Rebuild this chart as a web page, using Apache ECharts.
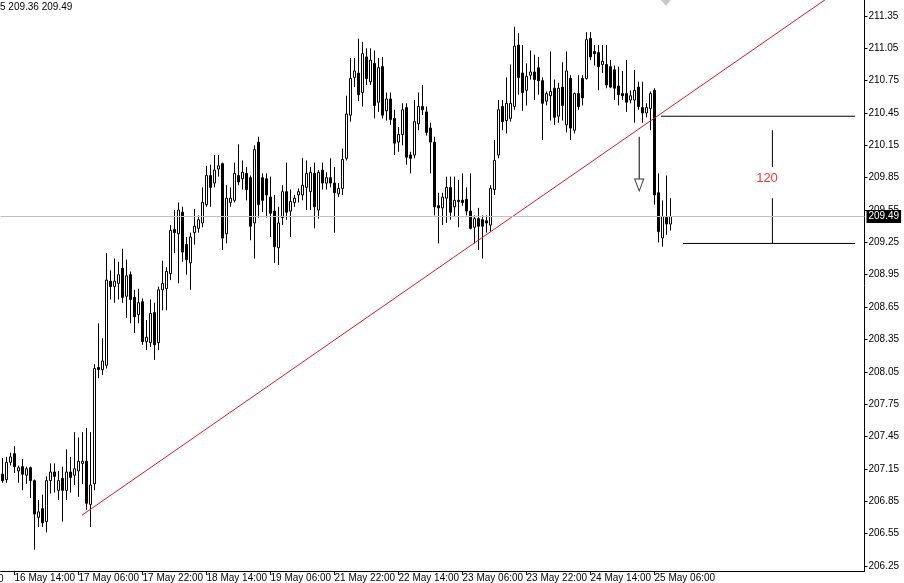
<!DOCTYPE html>
<html>
<head>
<meta charset="utf-8">
<script src="https://cdn.jsdelivr.net/npm/echarts@6/dist/echarts.min.js"></script>
<style>
html,body{margin:0;padding:0;background:#fff;}
#c{width:904px;height:583px;}
</style>
</head>
<body>
<div id="c"></div>
<script>
// ---- data (prices) ----
const tickLabels = ["16 May 14:00","17 May 06:00","17 May 22:00","18 May 14:00","19 May 06:00","21 May 22:00","22 May 14:00","23 May 06:00","23 May 22:00","24 May 14:00","25 May 06:00"];
const clippedLabel = "15 May 22:00";
const firstTickBar = 3;
const tickStep = 16;
const slotCount = 216;

const openP = [207.10,207.05,207.21,207.29,207.13,207.17,207.09,207.16,207.04,206.70,
206.78,206.66,207.04,207.12,206.95,207.06,206.95,207.12,207.09,207.13,
207.20,207.22,206.82,207.01,208.09,208.07,208.11,208.89,208.84,208.87,
209.01,208.75,208.95,208.74,208.58,208.70,208.33,208.32,208.60,208.32,
208.81,208.82,208.96,209.37,209.33,209.53,209.23,209.06,209.34,209.38,
209.43,209.60,209.87,209.80,209.93,209.98,209.33,209.62,209.64,209.87,
209.84,209.89,209.85,209.43,210.18,209.85,209.84,209.67,209.54,209.20,
209.48,209.72,209.54,209.62,209.69,209.69,209.76,209.72,209.89,209.55,
209.92,209.80,209.85,209.80,209.70,209.75,210.03,210.43,210.78,210.82,
210.64,210.97,210.74,210.91,210.55,210.88,210.47,210.58,210.40,210.18,
210.25,210.50,210.06,210.06,210.35,210.51,210.46,210.31,210.18,209.59,
209.57,209.66,209.76,209.58,209.64,209.64,209.65,209.54,209.39,209.47,
209.46,209.45,209.41,209.74,210.06,210.51,210.38,210.40,210.51,211.08,
210.82,210.66,210.80,210.83,210.87,210.75,210.56,210.61,210.68,210.42,
210.69,210.34,210.77,210.29,210.63,210.77,210.77,211.14,211.02,211.01,
210.90,210.90,210.88,210.85,210.70,210.63,210.63,210.57,210.57,210.69,
210.50,210.45,210.49,210.66,209.71,209.29,209.48,209.42];

const closeP = [207.04,207.21,207.26,207.17,207.16,207.10,207.15,207.04,206.73,206.75,
206.65,207.04,207.12,207.08,207.04,206.95,207.12,207.07,207.15,207.22,
207.22,206.83,207.00,208.08,208.07,208.15,208.90,208.84,208.89,208.95,
208.74,208.94,208.72,208.56,208.69,208.33,208.37,208.59,208.30,208.81,
208.87,208.98,209.36,209.34,209.55,209.16,209.09,209.30,209.40,209.46,
209.62,209.87,209.76,209.92,209.96,209.29,209.66,209.66,209.89,209.81,
209.90,209.74,209.40,210.11,209.60,209.64,209.69,209.52,209.21,209.43,
209.72,209.53,209.63,209.66,209.72,209.78,209.89,209.90,209.58,209.90,
209.80,209.85,209.80,209.71,209.75,210.02,210.44,210.77,210.84,210.62,
211.00,210.77,210.94,210.52,210.87,210.43,210.58,210.39,210.17,210.25,
210.48,210.04,210.03,210.37,210.51,210.48,210.27,210.18,209.58,209.57,
209.67,209.76,209.53,209.64,209.63,209.62,209.54,209.38,209.47,209.40,
209.40,209.43,209.75,210.01,210.48,210.37,210.54,210.54,211.07,210.78,
210.64,210.79,210.83,210.76,210.75,210.54,210.63,210.65,210.41,210.68,
210.52,210.84,210.31,210.63,210.51,210.59,211.13,210.97,211.00,210.88,
210.93,210.71,210.69,210.68,210.62,210.61,210.55,210.61,210.66,210.51,
210.45,210.50,210.63,209.69,209.35,209.49,209.42,209.49];

const lowP = [207.02,207.02,207.18,207.11,207.02,206.95,207.01,206.88,206.40,206.61,
206.61,206.56,206.92,206.93,206.86,206.66,206.86,206.93,207.00,206.89,
207.01,206.77,206.61,206.95,207.99,208.02,208.08,208.72,208.69,208.72,
208.69,208.55,208.50,208.41,208.50,208.30,208.25,208.28,208.16,208.25,
208.62,208.62,208.90,209.15,208.87,209.07,208.95,208.81,209.23,209.34,
209.39,209.58,209.58,209.76,209.86,209.18,209.24,209.58,209.62,209.78,
209.74,209.64,209.27,209.10,209.48,209.53,209.48,209.30,209.06,209.04,
209.41,209.46,209.30,209.58,209.62,209.64,209.55,209.55,209.38,209.47,
209.74,209.74,209.76,209.34,209.67,209.69,210.01,210.37,210.69,210.56,
210.51,210.71,210.71,210.40,210.46,210.40,210.38,210.34,210.06,210.09,
210.15,209.97,209.89,210.03,210.29,210.43,210.24,209.89,209.50,209.24,
209.41,209.43,209.46,209.49,209.39,209.59,209.50,209.37,209.24,209.18,
209.10,209.34,209.35,209.69,210.03,210.29,210.26,210.37,210.48,210.62,
210.47,210.52,210.76,210.57,210.62,210.20,210.52,210.38,210.34,210.36,
210.38,210.27,210.20,210.26,210.48,210.52,210.76,210.94,210.89,210.66,
210.82,210.68,210.68,210.57,210.52,210.57,210.46,210.54,210.36,210.48,
210.36,210.41,210.29,209.60,209.25,209.21,209.32,209.36];

const highP = [207.25,207.26,207.30,207.36,207.18,207.24,207.17,207.17,207.05,206.86,
206.91,207.08,207.20,207.20,207.13,207.17,207.33,207.26,207.49,207.44,
207.49,207.53,207.49,208.12,208.50,208.36,209.15,208.99,209.10,209.07,
209.19,209.09,208.98,208.81,208.82,208.73,208.53,208.72,208.69,208.84,
209.08,209.02,209.41,209.55,209.62,209.58,209.30,209.34,209.56,209.50,
209.76,209.96,209.97,210.06,210.06,209.99,209.78,209.76,209.99,210.16,
210.01,209.95,209.87,210.15,210.23,209.89,209.89,209.86,209.69,209.58,
209.78,209.99,209.74,209.69,209.75,210.03,210.01,209.95,209.99,209.92,
209.99,209.90,210.03,209.95,209.80,210.12,210.61,210.96,210.96,211.14,
211.11,211.05,211.05,211.03,210.96,210.97,210.64,210.64,210.48,210.32,
210.54,210.54,210.09,210.57,210.64,210.71,210.51,210.36,210.23,209.71,
209.71,209.86,209.86,209.86,209.83,209.89,209.76,209.89,209.50,209.57,
209.50,209.50,209.78,210.20,210.57,210.57,210.78,210.90,211.25,211.19,
211.08,210.91,211.03,210.99,210.97,210.78,210.65,211.02,210.76,210.73,
210.92,211.02,210.80,210.64,210.80,210.80,211.20,211.20,211.08,211.08,
211.08,211.08,210.94,210.89,210.88,210.84,210.94,210.66,210.85,210.74,
210.74,210.54,210.65,210.68,209.89,209.64,209.87,209.66];

const priceTicks = [206.25,206.55,206.85,207.15,207.45,207.75,208.05,208.35,208.65,208.95,209.25,209.55,209.85,210.15,210.45,210.75,211.05,211.35];
const yMin = 206.202, yMax = 211.498;
const lastPrice = 209.49;
const headerText = "5 209.36 209.49";

// annotations: [bar position, price]
const trendLine = [[20, 206.72], [205.75, 211.50]];
const levelHigh = [[164.75, 210.42], [213.25, 210.42]];
const levelLow = [[170.25, 209.24], [213.25, 209.24]];
const measureTop = [[192.6, 210.29], [192.6, 209.95]];
const measureBottom = [[192.6, 209.66], [192.6, 209.24]];
const measureLabel = [191.25, 209.845];
const measureText = "120";
const arrowStem = [[159.3, 210.23], [159.3, 209.84]];
const arrowHead = [159.3, 209.782];

// ---- chart ----
const FONT = "'Liberation Sans',sans-serif";
const cats = Array.from({length: slotCount}, (_, i) => 'b' + i);
const labelAt = {};
tickLabels.forEach((t, k) => { labelAt[firstTickBar + k * tickStep] = t; });
const candles = openP.map((o, i) => [o, closeP[i], lowP[i], highP[i]]);

function seg(data, color) {
  return {type: 'line', xAxisIndex: 1, yAxisIndex: 0, data: data, symbol: 'none',
    lineStyle: {color: color, width: 1}, silent: true, animation: false, z: 3};
}

const chart = echarts.init(document.getElementById('c'), null, {renderer: 'canvas'});
chart.setOption({
  animation: false,
  backgroundColor: '#ffffff',
  title: {text: headerText, left: 0, top: 0, padding: [2, 0, 0, 0],
    textStyle: {fontSize: 10, fontWeight: 'normal', color: '#000', fontFamily: FONT}},
  grid: {left: 0.5, right: 39.5, top: 0, bottom: 12, containLabel: false},
  xAxis: [{
    type: 'category', data: cats, boundaryGap: true, position: 'bottom',
    axisLine: {show: true, onZero: false, lineStyle: {color: '#000', width: 1}},
    axisTick: {show: true, alignWithLabel: true, length: 4, lineStyle: {color: '#000'},
      interval: (i) => labelAt[i] !== undefined},
    axisLabel: {show: true, interval: (i) => labelAt[i] !== undefined, align: 'left', margin: 2,
      hideOverlap: false, showMinLabel: true, showMaxLabel: true,
      formatter: (v, i) => labelAt[i] || '', color: '#000', fontSize: 10, fontFamily: FONT},
    splitLine: {show: false}
  }, {
    type: 'value', min: -0.375, max: slotCount - 0.375, show: false
  }],
  yAxis: [{
    type: 'value', position: 'right', min: yMin, max: yMax, scale: true,
    axisLine: {show: true, onZero: false, lineStyle: {color: '#000', width: 1}},
    axisTick: {show: true, length: 3, customValues: priceTicks, lineStyle: {color: '#000'}},
    axisLabel: {show: true, customValues: priceTicks, margin: 4, hideOverlap: false, formatter: (v) => v.toFixed(2),
      color: '#000', fontSize: 10, fontFamily: FONT},
    splitLine: {show: false}
  }],
  graphic: [
    {type: 'polygon', shape: {points: [[661, 0], [671, 0], [666, 6]]}, style: {fill: '#c8c8c8'}, silent: true},
    {type: 'text', x: -57, y: 574, silent: true,
      style: {text: clippedLabel, fill: '#000', font: "10px 'Liberation Sans'", textVerticalAlign: 'top'}}
  ],
  series: [
    {
      type: 'candlestick', xAxisIndex: 0, yAxisIndex: 0, data: candles, barWidth: 2,
      itemStyle: {color: '#ffffff', color0: '#000000', borderColor: '#000000', borderColor0: '#000000', borderWidth: 1},
      animation: false, z: 2,
      markLine: {
        silent: true, symbol: ['none', 'none'], animation: false,
        lineStyle: {color: '#c0c0c0', type: 'solid', width: 1},
        label: {show: true, position: 'end', distance: 2, formatter: lastPrice.toFixed(2),
          color: '#fff', backgroundColor: '#000', padding: [2, 2, 1, 2], fontSize: 10, fontFamily: FONT},
        data: [{yAxis: lastPrice}]
      }
    },
    seg(trendLine, '#dc143c'),
    seg(levelHigh, '#000'),
    seg(levelLow, '#000'),
    seg(measureTop, '#000'),
    seg(measureBottom, '#000'),
    seg(arrowStem, '#000'),
    {type: 'scatter', xAxisIndex: 1, yAxisIndex: 0, data: [arrowHead], symbol: 'triangle',
      symbolRotate: 180, symbolSize: [9, 12], silent: true, animation: false, z: 4,
      itemStyle: {color: '#fff', borderColor: '#000', borderWidth: 1}},
    {type: 'scatter', xAxisIndex: 1, yAxisIndex: 0, data: [measureLabel], symbolSize: 1,
      itemStyle: {color: 'rgba(0,0,0,0)'}, silent: true, animation: false, z: 4,
      label: {show: true, position: 'inside', formatter: measureText, color: '#ff0000', fontSize: 13, fontFamily: FONT}}
  ]
});
</script>
</body>
</html>
